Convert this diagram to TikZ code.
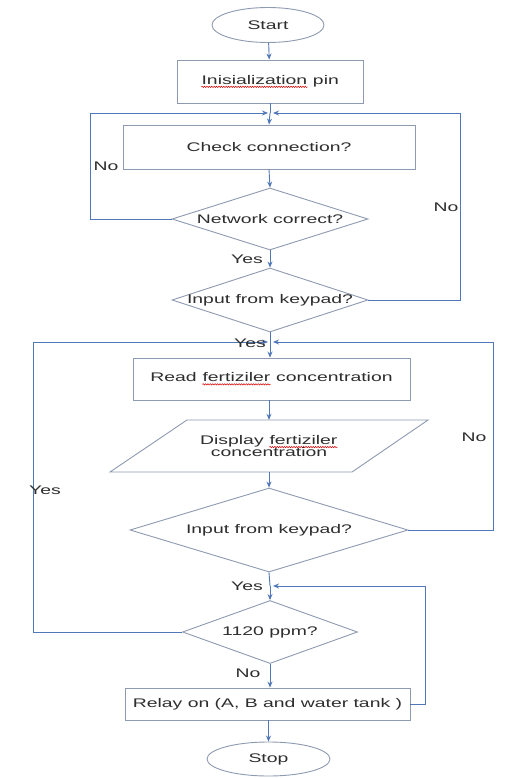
\documentclass[tikz,border=0pt]{standalone}
\usepackage{fontspec}
\setmainfont[FakeStretch=1.55]{Liberation Sans}
\usetikzlibrary{shapes.geometric,arrows.meta,decorations.pathmorphing}

% red wavy underline for flagged words
\newcommand\spellmark[1]{\tikz[baseline=(sw.base)]{%
  \node[draw=none, rectangle, inner sep=0pt, minimum width=0pt, minimum height=0pt,
        anchor=base] (sw) {#1};
  \draw[red!85!black, line width=0.5pt, decorate,
        decoration={snake, amplitude=0.7pt, segment length=2.4pt}]
    ([yshift=-2.6pt]sw.base west) -- ([yshift=-2.6pt]sw.base east);}}

\definecolor{boxgray}{HTML}{8E9AB0}
\definecolor{flowblue}{HTML}{5078B8}
\definecolor{headblue}{HTML}{3A68B8}
\definecolor{txt}{HTML}{2E2E2E}

\tikzset{
  base/.style={draw=boxgray, line width=0.9pt, inner sep=0pt, text=txt,
    font=\fontsize{12.5}{14}\selectfont},
  procbox/.style={base, rectangle},
  termbox/.style={base, ellipse},
  decbox/.style={base, diamond},
  lbl/.style={text=txt, inner sep=0pt, font=\fontsize{12.5}{14}\selectfont},
  flow/.style={draw=flowblue, line width=0.9pt,
    -{Stealth[length=6pt,width=5pt,fill=headblue]}},
  wire/.style={draw=flowblue, line width=0.9pt},
}

\begin{document}
\begin{tikzpicture}[x=1pt,y=1pt]
\useasboundingbox (0,0) rectangle (504,-778);
\fill[white] (0,0) rectangle (504,-778);

% terminals and steps
\node[termbox, minimum width=112, minimum height=35] (start) at (268,-25) {Start};
\node[procbox, minimum width=186, minimum height=43] (init) at (270,-81.5)
  {\spellmark{Inisialization} pin};
\node[procbox, minimum width=292, minimum height=44] (check) at (269,-147)
  {Check connection?};
\node[decbox, minimum width=196, minimum height=62] (net) at (270,-219) {};
\node[lbl] (netT) at (net.center) {Network correct?};
\node[decbox, minimum width=196, minimum height=64] (key1) at (270,-300) {};
\node[lbl] (key1T) at (key1.center) {Input from keypad?};
\node[procbox, minimum width=277, minimum height=42] (read) at (271.5,-379)
  {Read \spellmark{fertiziler} concentration};
% data (parallelogram) step
\node[lbl, minimum width=160, minimum height=52, align=center] (disp) at (269,-446)
  {Display \spellmark{fertiziler}\\[-2pt]concentration};
\draw[base] (187,-420) -- (428,-420) -- (352,-472) -- (110,-472) -- cycle;
\node[decbox, minimum width=278, minimum height=84] (key2) at (269,-530) {};
\node[lbl] (key2T) at (key2.center) {Input from keypad?};
\node[decbox, minimum width=175, minimum height=63] (ppm) at (270,-632) {};
\node[lbl] (ppmT) at (ppm.center) {1120 ppm?};
\node[procbox, minimum width=285, minimum height=32] (relay) at (267.5,-704)
  {Relay on (A, B and water tank )};
\node[termbox, minimum width=123, minimum height=34] (stop) at (268.5,-759) {Stop};

% joining points
\coordinate (j1) at (270,-113);
\coordinate (j2) at (270,-342);
\coordinate (j3) at (270,-586);

% main line
\draw[flow] (start) -- (init);
\draw[wire] (init.south) -- (j1);
\draw[flow] (j1) -- (check.north);
\draw[flow] (check.south) -- (net.north);
\draw[flow] (net.south) -- (key1.north);
\draw[wire] (key1.south) -- (j2);
\draw[flow] (j2) -- (read.north -| j2);
\draw[flow] (read.south -| disp) -- (disp.north);
\draw[flow] (disp.south) -- (key2.north);
\draw[wire] (key2.south) -- (j3);
\draw[flow] (j3) -- (ppm.north);
\draw[flow] (ppm.south) -- (relay.north -| ppm);
\draw[flow] (relay.south -| stop) -- (stop.north);

% return loops
\draw[flow] (net.west) -- (90,-219) -- (90,-113) -- ([xshift=-2]j1);
\draw[flow] (key1.east) -- (460,-300) -- (460,-113) -- ([xshift=3]j1);
\draw[flow] (ppm.west) -- (33,-632) -- (33,-342) -- ([xshift=-2]j2);
\draw[flow] (key2.east) -- (493,-530) -- (493,-342) -- ([xshift=3]j2);
\draw[flow] (relay.east) -- (425,-704) -- (425,-586) -- ([xshift=3]j3);

% branch labels
\node[lbl] (noA) at (106,-166) {No};
\node[lbl] (noB) at (446,-207) {No};
\node[lbl] (yesA) at (247,-259) {Yes};
\node[lbl] (yesB) at (250,-343) {Yes};
\node[lbl] (noC) at (474,-437) {No};
\node[lbl] (yesC) at (45,-490) {Yes};
\node[lbl] (yesD) at (247,-586) {Yes};
\node[lbl] (noD) at (248,-673) {No};
\end{tikzpicture}
\end{document}
